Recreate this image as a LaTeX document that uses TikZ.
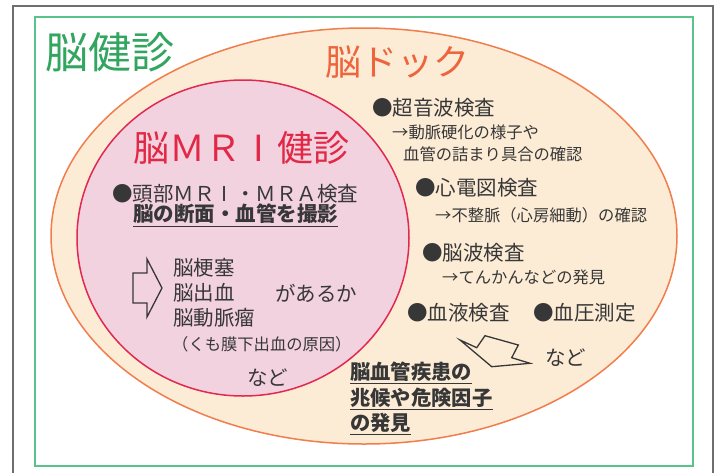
\documentclass[tikz,border=0pt]{standalone}
\usepackage{fontspec}
\setmainfont{Noto Sans CJK JP}
\definecolor{framegray}{RGB}{110,110,110}
\definecolor{kengreen}{RGB}{50,165,95}
\definecolor{boxgreen}{RGB}{90,195,140}
\definecolor{dockline}{RGB}{240,125,75}
\definecolor{dockfill}{RGB}{252,236,214}
\definecolor{docktext}{RGB}{238,100,60}
\definecolor{mriline}{RGB}{225,40,80}
\definecolor{mrifill}{RGB}{243,210,224}
\definecolor{mritext}{RGB}{225,40,70}
\definecolor{textgray}{RGB}{55,55,55}
\newcommand{\wideI}{\makebox[1em]{I}}
\tikzset{
  txt/.style={anchor=west, inner sep=0pt, text=textgray},
  item/.style={txt, font=\fontsize{20.5}{24}\selectfont},
  note/.style={txt, font=\fontsize{16.3}{20}\selectfont},
  uline/.style={textgray, line width=1pt},
}
\begin{document}
\begin{tikzpicture}[x=1pt, y=-1pt]
    \useasboundingbox (0,0) rectangle (720,472);
    \fill[white] (0,0) rectangle (720,472);
    % frames
    \draw[framegray, line width=1.2pt] (13,480) -- (13,6) -- (713,6) -- (713,480);
    \draw[boxgreen, line width=1.5pt] (35,17) rectangle (693,466);
    % circles
    \draw[dockline, fill=dockfill, line width=1.5pt] (364,236) ellipse [x radius=313pt, y radius=208pt];
    \draw[mriline, fill=mrifill, line width=1.5pt] (243,238) ellipse [x radius=166pt, y radius=158pt];
    % titles
    \node[anchor=west, inner sep=0pt, text=kengreen, font=\fontsize{43}{48}\selectfont] (kenshin) at (45,52) {脳健診};
    \node[anchor=west, inner sep=0pt, text=mritext, font=\fontsize{36}{40}\selectfont] (mri) at (133,148) {脳ＭＲ\wideI 健診};
    \node[anchor=west, inner sep=0pt, text=docktext, font=\fontsize{36}{40}\selectfont] (dock) at (325,62) {脳ドック};
    % MRI side
    \node[item] (mra) at (112,194) {●頭部ＭＲ\wideI ・ＭＲＡ検査};
    \node[item, font=\bfseries\fontsize{20.5}{24}\selectfont] (satsuei) at (133,214) {脳の断面・血管を撮影};
    \draw[uline] ([yshift=-2pt]satsuei.south west) -- ([yshift=-2pt]satsuei.south east);
    \draw[textgray, line width=1.3pt, line join=miter]
        (133,273) -- (147,273) -- (147,259) -- (162,288) -- (147,317) -- (147,303) -- (133,303) -- cycle;
    \node[item] (kosoku) at (173,268) {脳梗塞};
    \node[item] (shukketsu) at (173,293) {脳出血};
    \node[item] (ryu) at (173,318) {脳動脈瘤};
    \node[item] (aruka) at (275,293) {があるか};
    \node[note] (kumomaku) at (172,344) {（くも膜下出血の原因）};
    \node[item] (nado1) at (247,378) {など};
    % dock side
    \node[item] (echo) at (372,108) {●超音波検査};
    \node[note] (echo1) at (392,132) {→動脈硬化の様子や};
    \node[note] (echo2) at (403,154) {血管の詰まり具合の確認};
    \node[item] (ecg) at (415,188) {●心電図検査};
    \node[note] (ecg1) at (435,215) {→不整脈（心房細動）の確認};
    \node[item] (eeg) at (422,253) {●脳波検査};
    \node[note] (eeg1) at (442,277) {→てんかんなどの発見};
    \node[item] (blood) at (407,313) {●血液検査};
    \node[item] (pressure) at (533,313) {●血圧測定};
    \node[item] (nado2) at (545,358) {など};
    \draw[textgray, line width=1.3pt, line join=miter]
        (460,340) -- (476.7,347.7) -- (485,335.7) -- (518.3,345) -- (511.7,357.7) -- (530,363.3) -- (491.7,366.7) -- cycle;
    \node[item, font=\bfseries\fontsize{20.3}{24}\selectfont] (find1) at (350,372) {脳血管疾患の};
    \node[item, font=\bfseries\fontsize{20.3}{24}\selectfont] (find2) at (350,398) {兆候や危険因子};
    \node[item, font=\bfseries\fontsize{20.3}{24}\selectfont] (find3) at (350,423) {の発見};
    \draw[uline] ([yshift=-2pt]find1.south west) -- ([yshift=-2pt]find1.south east);
    \draw[uline] ([yshift=-2pt]find2.south west) -- ([yshift=-2pt]find2.south east);
    \draw[uline] ([yshift=-2pt]find3.south west) -- ([yshift=-2pt]find3.south east);
\end{tikzpicture}
\end{document}
